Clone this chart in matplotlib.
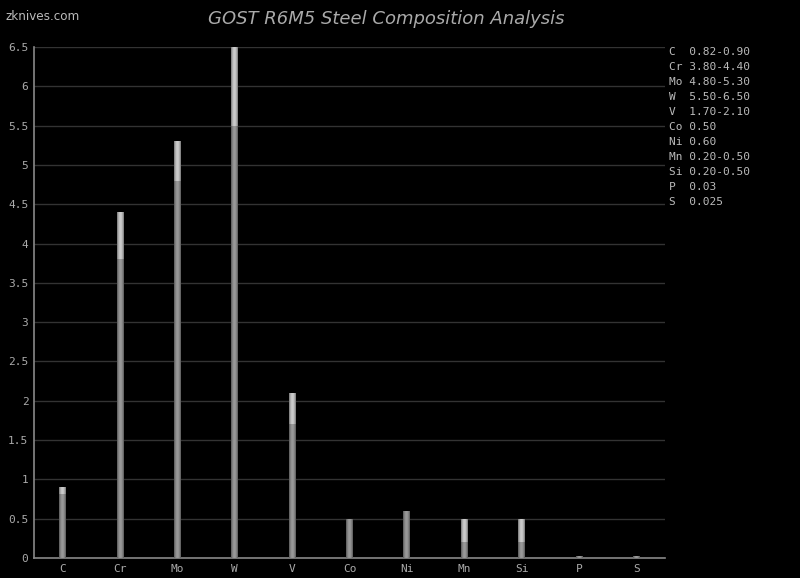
import numpy as np
import matplotlib
matplotlib.use("Agg")
import matplotlib.pyplot as plt

# composition of GOST R6M5 steel (min / max, %)
elements = ['C', 'Cr', 'Mo', 'W', 'V', 'Co', 'Ni', 'Mn', 'Si', 'P', 'S']
min_vals = [0.82, 3.80, 4.80, 5.50, 1.70, 0.50, 0.60, 0.20, 0.20, 0.03, 0.025]
max_vals = [0.90, 4.40, 5.30, 6.50, 2.10, 0.50, 0.60, 0.50, 0.50, 0.03, 0.025]
legend_lines = ['C  0.82-0.90', 'Cr 3.80-4.40', 'Mo 4.80-5.30', 'W  5.50-6.50',
                'V  1.70-2.10', 'Co 0.50', 'Ni 0.60', 'Mn 0.20-0.50',
                'Si 0.20-0.50', 'P  0.03', 'S  0.025']
yticks = [0, 0.5, 1, 1.5, 2, 2.5, 3, 3.5, 4, 4.5, 5, 5.5, 6, 6.5]

fig = plt.figure(figsize=(8, 5.78), dpi=100, facecolor='black')
ax = fig.add_axes([0.0425, 0.0346, 0.78875, 0.8841])
ax.set_facecolor('black')

x = np.arange(len(elements)) + 0.5
w = 0.12
upper = [mx - mn for mn, mx in zip(min_vals, max_vals)]

# gradient across bar width (cylinder look)
g = np.linspace(-1, 1, 64)
shade = 1 - 0.45 * g ** 2
grad = shade[np.newaxis, :]

lo = ax.bar(x, min_vals, width=w, color='#808080', zorder=3)
hi = ax.bar(x, upper, width=w, bottom=min_vals, color='#b0b0b0', zorder=3)
for bars, vmax in ((lo, 0.6), (hi, 0.8)):
    for b in bars:
        if b.get_height() <= 0:
            continue
        im = ax.imshow(grad * vmax, cmap='gray', vmin=0, vmax=1, aspect='auto',
                       extent=[b.get_x(), b.get_x() + b.get_width(),
                               b.get_y(), b.get_y() + b.get_height()],
                       zorder=4, interpolation='bilinear')
        im.set_clip_path(b)

ax.set_xlim(0, len(elements))
ax.set_ylim(0, 6.5)
ax.set_xticks(x)
ax.set_xticklabels(elements)
ax.set_yticks(yticks)
ax.set_yticklabels([('%g' % v) for v in yticks])
ax.grid(axis='y', color='#333333', linewidth=1, zorder=0)
ax.set_axisbelow(True)
for s in ['top', 'right']:
    ax.spines[s].set_visible(False)
for s in ['left', 'bottom']:
    ax.spines[s].set_color('#888888')
    ax.spines[s].set_linewidth(1.2)
ax.tick_params(axis='both', colors='#aaaaaa', length=0, labelsize=8, pad=4)
for lab in ax.get_xticklabels() + ax.get_yticklabels():
    lab.set_fontfamily('DejaVu Sans Mono')
    lab.set_color('#aaaaaa')

# right side composition text
for i, line in enumerate(legend_lines):
    fig.text(669 / 800, 1 - (52 + 15 * i) / 578, line, family='DejaVu Sans Mono',
             fontsize=8, color='#bbbbbb', va='center', ha='left')

fig.text(386 / 800, 1 - 19 / 578, 'GOST R6M5 Steel Composition Analysis',
         fontsize=13, style='italic', color='#aaaaaa', ha='center', va='center')
fig.text(6 / 800, 1 - 17 / 578, 'zknives.com', fontsize=9.5, color='#bbbbbb',
         ha='left', va='center', stretch='condensed')

fig.savefig('out.png', dpi=100, facecolor='black')
